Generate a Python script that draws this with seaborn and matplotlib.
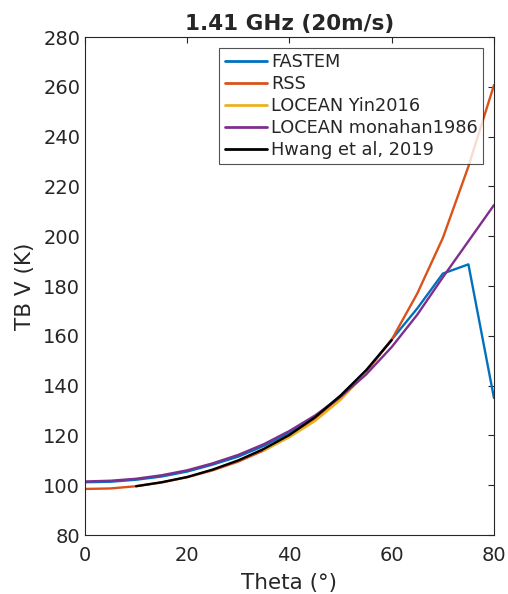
import numpy as np
import pandas as pd
import matplotlib
matplotlib.use("Agg")
import matplotlib.pyplot as plt
import seaborn as sns

# Incidence angles (degrees)
theta_full = [0, 5, 10, 15, 20, 25, 30, 35, 40, 45, 50, 55, 60, 65, 70, 75, 80]
theta_yin = [35, 40, 45, 50, 55]
theta_hwang = [10, 15, 20, 25, 30, 35, 40, 45, 50, 55, 60]

# Brightness temperature, V polarisation (K)
tb_fastem = [101.2, 101.4, 102.2, 103.5, 105.5, 108.3, 111.5, 115.8, 121.0,
             127.5, 136.0, 146.0, 158.5, 171.0, 185.0, 188.7, 135.0]
tb_rss = [98.5, 98.7, 99.6, 101.1, 103.2, 106.0, 109.5, 114.0, 119.6,
          126.5, 135.0, 145.5, 158.5, 177.0, 199.3, 228.0, 260.7]
tb_yin = [114.0, 119.3, 125.8, 134.3, 145.3]
tb_monahan = [101.5, 101.8, 102.6, 104.0, 106.0, 108.8, 112.2, 116.5, 121.8,
              128.0, 135.5, 144.5, 155.5, 168.5, 183.5, 198.0, 212.5]
tb_hwang = [99.6, 101.2, 103.3, 106.3, 110.0, 114.6, 120.2, 127.3, 136.0,
            146.2, 158.3]

models = ["FASTEM", "RSS", "LOCEAN Yin2016", "LOCEAN monahan1986",
          "Hwang et al, 2019"]
colors = ["#0072BD", "#D95319", "#EDB120", "#7E2F8E", "#000000"]

frames = []
for name, th, tb in [(models[0], theta_full, tb_fastem),
                     (models[1], theta_full, tb_rss),
                     (models[2], theta_yin, tb_yin),
                     (models[3], theta_full, tb_monahan),
                     (models[4], theta_hwang, tb_hwang)]:
    frames.append(pd.DataFrame({"theta": th, "tb": tb, "model": name}))
df = pd.concat(frames, ignore_index=True)

sns.set_style("white")
plt.rcParams["font.family"] = ["DejaVu Sans"]
axis_col = "#262626"

fig = plt.figure(figsize=(5.08, 5.94), dpi=100)
ax = fig.add_axes([0.1673, 0.0993, 0.8051, 0.8384])

sns.lineplot(data=df, x="theta", y="tb", hue="model", hue_order=models,
             palette=dict(zip(models, colors)), linewidth=1.7, ax=ax,
             sort=False, estimator=None)

ax.set_xlim(0, 80)
ax.set_ylim(80, 280)
ax.set_xticks(np.arange(0, 81, 20))
ax.set_yticks(np.arange(80, 281, 20))
ax.tick_params(direction="in", length=4, width=0.8, colors=axis_col,
               labelsize=14, top=True, right=True, labelcolor=axis_col)
ax.tick_params(axis="x", pad=8)
for sp in ax.spines.values():
    sp.set_visible(True)
    sp.set_color(axis_col)
    sp.set_linewidth(0.8)

ax.set_xlabel("Theta (°)", fontsize=15.5, color=axis_col, labelpad=6)
ax.set_ylabel("TB V (K)", fontsize=15.5, color=axis_col, labelpad=6)
ax.set_title("1.41 GHz (20m/s)", fontsize=15.5, fontweight="bold", pad=5)

leg = ax.legend(loc="upper right", bbox_to_anchor=(0.973, 0.978),
                borderaxespad=0, fontsize=12.8, frameon=True, fancybox=False,
                edgecolor=axis_col, handlelength=2.4, handletextpad=0.2,
                labelspacing=0.22, borderpad=0.3)
leg.get_frame().set_linewidth(0.8)
for line in leg.get_lines():
    line.set_linewidth(2.0)

fig.savefig("out.png", dpi=100)
